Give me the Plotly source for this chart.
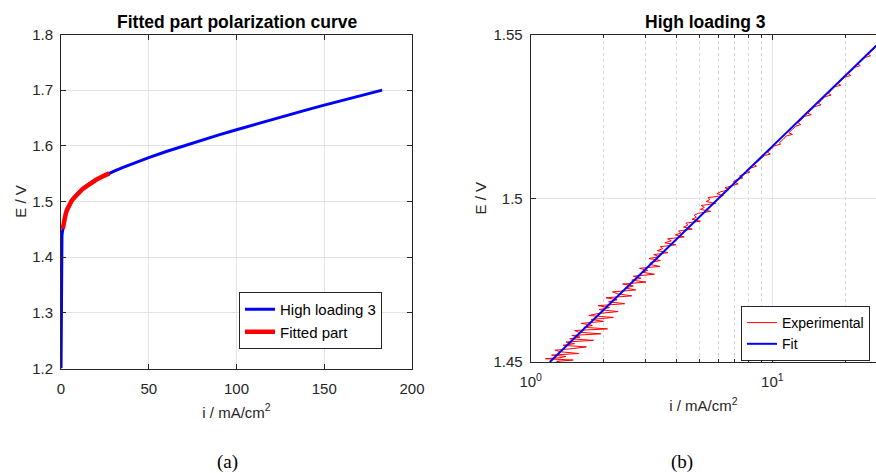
import plotly.graph_objects as go

# ---------------- data ----------------
# (a) full polarization curve: current density (mA/cm2), potential (V)
pol_i = [0.02, 0.05, 0.03, 0.06, 0.04, 0.08, 0.10, 0.12, 0.15, 0.20, 0.26, 0.32, 0.42, 0.55,
         0.70, 0.85, 1.0, 1.2, 1.5, 1.8, 2.2, 2.7, 3.3, 4.0, 5.0, 6.0, 7.0, 8.0, 9.0, 10.0,
         11.5, 13.0, 16.0, 20.0, 25.0, 27.5, 30.0, 35.0, 40.0, 50.0, 60.0, 70.0, 80.0, 90.0,
         100.0, 110.0, 120.0, 130.0, 140.0, 150.0, 160.0, 170.0, 183.0]
pol_E = [1.200, 1.230, 1.255, 1.280, 1.300, 1.320, 1.340, 1.360, 1.380, 1.395, 1.410, 1.420,
         1.431, 1.438, 1.443, 1.447, 1.451, 1.456, 1.462, 1.467, 1.472, 1.478, 1.484, 1.489,
         1.495, 1.501, 1.505, 1.509, 1.513, 1.516, 1.520, 1.524, 1.531, 1.539, 1.547, 1.5505,
         1.5540, 1.5607, 1.5670, 1.5788, 1.5898, 1.6002, 1.6101, 1.6197, 1.6290, 1.6382,
         1.6472, 1.6560, 1.6646, 1.6731, 1.6814, 1.6896, 1.7001]

# fitted window of the curve (mA/cm2)
fit_window = [1.0, 27.5]

# (b) experimental points of the fitted (Tafel) region: (i, E)
exp_points = [
    (1.24, 1.4490), (1.10, 1.4494), (1.35, 1.4498), (1.28, 1.4502), (1.50, 1.4506),
    (1.15, 1.4510), (1.32, 1.4513), (1.40, 1.4517), (1.22, 1.4521), (1.58, 1.4526),
    (1.34, 1.4531), (1.26, 1.4536), (1.45, 1.4540), (1.70, 1.4546), (1.36, 1.4551),
    (1.52, 1.4556), (1.40, 1.4561), (1.82, 1.4566), (1.45, 1.4571), (1.60, 1.4576),
    (1.48, 1.4581), (1.95, 1.4586), (1.58, 1.4591), (1.52, 1.4596), (2.08, 1.4601),
    (1.66, 1.4606), (1.80, 1.4612), (1.62, 1.4618), (2.00, 1.4624), (1.78, 1.4630),
    (2.20, 1.4636), (1.74, 1.4642), (1.90, 1.4648), (2.30, 1.4654), (1.92, 1.4660),
    (2.12, 1.4666), (1.90, 1.4672), (2.45, 1.4678), (2.10, 1.4684), (2.28, 1.4690),
    (2.05, 1.4696), (2.62, 1.4702), (2.30, 1.4708), (2.18, 1.4714), (2.72, 1.4720),
    (2.46, 1.4726), (2.66, 1.4732), (2.40, 1.4738), (3.00, 1.4744), (2.62, 1.4750),
    (2.86, 1.4756), (2.66, 1.4762), (3.25, 1.4768), (2.90, 1.4774), (3.05, 1.4780),
    (2.82, 1.4786), (3.42, 1.4792), (3.10, 1.4798),
    (3.14, 1.4804), (3.44, 1.4810), (3.09, 1.4816), (3.40, 1.4822), (3.23, 1.4828),
    (3.70, 1.4834), (3.34, 1.4840), (3.52, 1.4846), (3.44, 1.4852), (3.99, 1.4858),
    (3.59, 1.4864), (3.82, 1.4870), (3.69, 1.4876), (4.32, 1.4882), (3.97, 1.4888),
    (4.18, 1.4894), (4.09, 1.4900), (4.66, 1.4906), (4.29, 1.4912), (4.47, 1.4918),
    (4.39, 1.4924), (5.04, 1.4930), (4.66, 1.4936), (4.85, 1.4942), (4.75, 1.4948),
    (4.94, 1.4954), (5.56, 1.4960), (5.04, 1.4966), (5.23, 1.4972), (5.08, 1.4978),
    (5.84, 1.4984), (5.32, 1.4990), (5.51, 1.4996), (5.42, 1.5002), (6.27, 1.5008),
    (5.89, 1.5014), (6.13, 1.5020), (6.60, 1.5026), (6.37, 1.5032), (6.75, 1.5038),
    (7.22, 1.5044), (6.89, 1.5050), (7.08, 1.5056), (7.55, 1.5062), (7.32, 1.5068),
    (7.65, 1.5074), (8.08, 1.5080), (7.84, 1.5086), (8.12, 1.5092), (8.60, 1.5098),
    (8.36, 1.5104), (8.65, 1.5110),
    (8.97, 1.5120), (9.26, 1.5130), (9.80, 1.5135), (9.56, 1.5140), (9.90, 1.5150),
    (10.2, 1.5160), (10.8, 1.5165), (10.7, 1.5170), (11.1, 1.5180), (11.4, 1.5190),
    (12.1, 1.5195), (11.7, 1.5200), (12.1, 1.5210), (12.5, 1.5220), (13.1, 1.5225),
    (12.8, 1.5230), (13.2, 1.5240), (13.6, 1.5250), (14.5, 1.5255), (14.0, 1.5260),
    (14.5, 1.5270), (15.0, 1.5280), (15.9, 1.5285), (15.5, 1.5290), (16.0, 1.5300),
    (16.5, 1.5310), (17.5, 1.5315), (17.1, 1.5320), (17.5, 1.5330), (18.1, 1.5340),
    (19.2, 1.5345), (18.7, 1.5350), (19.3, 1.5360), (20.0, 1.5370), (21.1, 1.5375),
    (20.6, 1.5380), (21.3, 1.5390), (22.0, 1.5400), (23.1, 1.5405), (22.6, 1.5410),
    (23.4, 1.5420), (24.2, 1.5430), (25.5, 1.5435), (24.9, 1.5440), (25.8, 1.5450),
    (26.7, 1.5460), (28.0, 1.5465), (27.5, 1.5470), (28.3, 1.5480), (29.2, 1.5490),
    (30.2, 1.5500),
]
exp_i = [p[0] for p in exp_points]
exp_E = [p[1] for p in exp_points]

# (b) Tafel fit line end points
fit_i = [1.2, 30.0]
fit_E = [1.450, 1.550]

left_title = "Fitted part polarization curve"
right_title = "High loading 3"
x_label = "i / mA/cm<sup>2</sup>"
y_label = "E / V"
left_xticks = [0, 50, 100, 150, 200]
left_yticks = [1.2, 1.3, 1.4, 1.5, 1.6, 1.7, 1.8]
right_xticks = [1, 10]
right_xtext = ["10<sup>0</sup>", "10<sup>1</sup>"]
right_xminor = [2, 3, 4, 5, 6, 7, 8, 9, 20]
right_yticks = [1.45, 1.5, 1.55]
right_ytext = ["1.45", "1.5", "1.55"]

# fitted part of the polarization curve
part = [(a, b) for a, b in zip(pol_i, pol_E) if fit_window[0] <= a <= fit_window[1]]
part_i = [p[0] for p in part]
part_E = [p[1] for p in part]

# ---------------- figure ----------------
W, H = 876, 473
FONT = "Liberation Sans, Arial, Helvetica, sans-serif"
AX = "#262626"
GRID = "#e3e3e3"

def px(x):
    return x / W

def py(y):
    return 1 - y / H

fig = go.Figure()

fig.add_trace(go.Scatter(x=pol_i, y=pol_E, mode="lines", name="High loading 3",
                         line=dict(color="#0000ff", width=3), xaxis="x", yaxis="y",
                         legend="legend"))
fig.add_trace(go.Scatter(x=part_i, y=part_E, mode="lines", name="Fitted part",
                         line=dict(color="#ff0000", width=4.5), xaxis="x", yaxis="y",
                         legend="legend"))
fig.add_trace(go.Scatter(x=exp_i, y=exp_E, mode="lines", name="Experimental",
                         line=dict(color="#ff0000", width=1), xaxis="x2", yaxis="y2",
                         legend="legend2"))
fig.add_trace(go.Scatter(x=fit_i, y=fit_E, mode="lines", name="Fit",
                         line=dict(color="#0000ff", width=2), xaxis="x2", yaxis="y2",
                         legend="legend2"))

common = dict(showline=True, linecolor=AX, linewidth=1, ticks="inside", ticklen=5,
              tickcolor=AX, tickfont=dict(family=FONT, size=15, color=AX),
              showgrid=True, gridcolor=GRID, gridwidth=1, zeroline=False,
              automargin=False)

fig.update_layout(
    width=W, height=H, margin=dict(l=0, r=0, t=0, b=0),
    paper_bgcolor="white", plot_bgcolor="white",
    font=dict(family=FONT, size=15, color=AX),
    xaxis=dict(domain=[px(61), px(412)], range=[0, 200], tickvals=left_xticks,
               mirror="ticks", anchor="y", ticklabelstandoff=6,
               title=dict(text=x_label, font=dict(size=15, color=AX), standoff=11),
               **common),
    yaxis=dict(domain=[py(368.5), py(34.5)], range=[1.2, 1.8], tickvals=left_yticks,
               tickformat=".1f", mirror="ticks", anchor="x", ticklabelstandoff=4,
               title=dict(text=y_label, font=dict(size=15, color=AX), standoff=1),
               **common),
    xaxis2=dict(domain=[px(530.7), 1.0], type="log", range=[0, 1.429],
                tickvals=right_xticks, ticktext=right_xtext, mirror="ticks", anchor="y2",
                ticklabelstandoff=6,
                minor=dict(tickvals=right_xminor, ticks="inside", ticklen=3, tickcolor=AX,
                           showgrid=True, gridcolor="#d4d4d4", griddash="dot", gridwidth=1),
                title=dict(text=x_label, font=dict(size=15, color=AX), standoff=11),
                **common),
    yaxis2=dict(domain=[py(362), py(34.5)], range=[1.45, 1.55], tickvals=right_yticks,
                ticktext=right_ytext, anchor="x2", ticklabelstandoff=4,
                title=dict(text=y_label, font=dict(size=15, color=AX), standoff=3),
                **common),
    legend=dict(x=px(239), y=py(292), xanchor="left", yanchor="top",
                bordercolor=AX, borderwidth=1, bgcolor="white",
                font=dict(family=FONT, size=15, color="black"), tracegroupgap=0,
                itemwidth=30),
    legend2=dict(x=px(741), y=py(306), xanchor="left", yanchor="top",
                 bordercolor=AX, borderwidth=1, bgcolor="white",
                 font=dict(family=FONT, size=14, color="black"), tracegroupgap=0,
                 itemwidth=30),
    showlegend=True,
)

ann = [
    dict(text="<b>" + left_title + "</b>", x=px(237), y=py(22), font=dict(size=17.5, color="black")),
    dict(text="<b>" + right_title + "</b>", x=px(705), y=py(22), font=dict(size=17.5, color="black")),
    dict(text="(a)", x=px(227), y=py(462), font=dict(family="Liberation Serif, serif", size=19, color="black")),
    dict(text="(b)", x=px(682), y=py(462), font=dict(family="Liberation Serif, serif", size=19, color="black")),
]
for a in ann:
    fig.add_annotation(xref="paper", yref="paper", showarrow=False,
                       xanchor="center", yanchor="middle", **a)

fig.write_html("out.html")
